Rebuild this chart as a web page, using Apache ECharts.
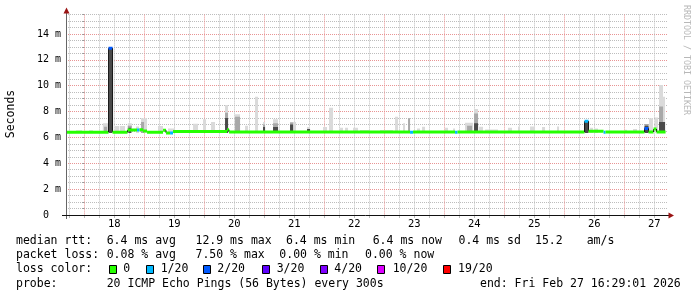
<!DOCTYPE html>
<html><head><meta charset="utf-8">
<script src="https://cdn.jsdelivr.net/npm/echarts@6/dist/echarts.min.js"></script>
<style>html,body{margin:0;padding:0;background:#fff}#c{width:697px;height:297px}</style>
</head><body><div id="c"></div>
<script>
// time unit: hours since Feb 18 00:00
const dayLabels = ['18','19','20','21','22','23','24','25','26','27'];
const dayLabelHours = [12,36,60,84,108,132,156,180,204,228];
const gridHours = [-6,0,6,12,18,24,30,36,42,48,54,60,66,72,78,84,90,96,102,108,114,120,126,132,138,144,150,156,162,168,174,180,186,192,198,204,210,216,222,228];
const lossLabels = ['0','1/20','2/20','3/20','4/20','10/20','19/20'];
const lossColors = ['#26ff00','#00b8ff','#0059ff','#5e00ff','#7e00ff','#dd00ff','#ff0000'];

// median rtt (ms) as steps: start hour, value, loss-colour index
const medianStart = [-7.3,9.7,11.3,17.3,21.1,22.1,23.5,25.1,31.5,32.7,34.3,35.5,57.1,57.9,130.3,131.5,148.3,149.3,200.1,201.7,207.7,208.5,224.1,225.7,227.7,228.9];
const medianValue = [6.4,12.9,6.4,6.57,6.57,6.6,6.5,6.4,6.55,6.35,6.35,6.45,6.6,6.42,6.4,6.42,6.4,6.42,7.25,6.48,6.4,6.42,6.7,6.42,6.65,6.42];
const medianLoss  = [0,2,0,0,1,0,0,0,0,0,1,0,0,0,1,0,1,0,1,0,1,0,2,0,0,0];
const medianEnd = 232.5;

// smoke: [start hour, end hour, top ms]
const smokeLight = [[-3.3,-0.9,6.55],[1.9,3.5,6.55],[7.4,9.7,7.1],[12.3,14.0,6.88],[14.3,16.3,6.88],[17.4,19.0,7.1],[20.7,21.9,6.85],[22.7,25.1,7.48],[29.5,31.5,6.88],[33.5,36.3,6.7],[43.5,45.5,7.05],[47.5,48.7,7.4],[50.7,52.3,7.2],[56.3,57.5,8.5],[60.3,62.3,7.8],[64.3,65.5,6.9],[68.3,69.5,9.15],[71.5,72.3,7.2],[75.5,77.5,7.4],[82.3,84.7,7.2],[89.1,90.3,6.8],[95.5,97.1,6.8],[97.9,99.5,8.3],[102.3,103.5,6.75],[104.3,105.5,6.75],[107.5,109.5,6.75],[110.3,114.3,6.57],[118.3,123.5,6.57],[124.3,125.5,7.6],[127.5,128.3,7.1],[129.5,130.3,7.48],[133.1,134.3,6.7],[135.1,136.3,6.83],[144.3,145.5,6.75],[147.5,148.3,6.7],[152.3,155.5,7.14],[155.9,157.5,8.2],[157.9,159.5,6.83],[160.3,165.5,6.62],[169.5,171.1,6.75],[173.5,174.3,6.85],[178.3,180.3,6.85],[183.1,184.3,6.8],[189.1,189.9,6.85],[202.3,203.5,6.75],[204.3,205.5,6.7],[216.3,217.1,6.6],[219.5,221.1,6.65],[225.9,227.5,7.48],[228.3,229.5,7.55],[229.9,231.5,10.05],[231.5,232.3,9.15]];
const smokeMid = [[7.9,9.1,6.83],[17.4,19.0,6.9],[22.7,23.9,7.2],[56.3,57.5,7.9],[60.3,62.3,7.6],[71.5,72.3,7.0],[75.5,77.5,7.1],[82.3,83.5,7.15],[129.5,130.3,7.48],[153.1,155.1,6.9],[155.9,157.5,7.86],[224.1,225.7,7.04],[229.9,231.5,8.4],[231.5,232.3,7.2]];
const smokeDark = [[9.9,11.2,12.9],[17.7,18.7,6.75],[56.3,57.5,7.5],[71.5,72.3,6.8],[75.5,77.5,6.8],[82.3,83.5,7.0],[89.1,90.3,6.65],[155.9,157.5,7.1],[200.1,201.7,7.25],[224.1,225.7,6.9],[229.9,232.3,7.2]];
const smokeBase = 6.35;

const statLines = [
  [['median rtt:',16],['6.4 ms avg',106.7],['12.9 ms max',195.5],['6.4 ms min',286],['6.4 ms now',372.7],['0.4 ms sd',458.5],['15.2',535],['am/s',586.7]],
  [['packet loss:',16],['0.08 % avg',106.7],['7.50 % max',195.5],['0.00 % min',279.3],['0.00 % now',365]],
  [['loss color:',16]],
  [['probe:',16],['20 ICMP Echo Pings (56 Bytes) every 300s',106.7],['end: Fri Feb 27 16:29:01 2026',480]]
];

const MONO = '"DejaVu Sans Mono", monospace';
const RED = '#e89494', GRAY = '#bdbdbd';

function smokeSeries(data, color) {
  return {
    type: 'custom', data: data, encode: {x: [0, 1], y: 2}, clip: true, silent: true,
    renderItem: function (params, api) {
      const p0 = api.coord([api.value(0), api.value(2)]);
      const p1 = api.coord([api.value(1), smokeBase]);
      return {type: 'rect', shape: {x: p0[0], y: p0[1], width: p1[0] - p0[0], height: p1[1] - p0[1]}, style: {fill: color}};
    }
  };
}

const medianData = medianStart.map((t, i) => [t, i < medianStart.length - 1 ? medianStart[i + 1] : medianEnd, medianValue[i], medianLoss[i], i > 0 ? medianValue[i - 1] : medianValue[i]]);

const graphics = [];
graphics.push({type: 'line', shape: {x1: 66.5, y1: 219, x2: 66.5, y2: 12}, style: {stroke: '#666', lineWidth: 1}, z: 10});
graphics.push({type: 'line', shape: {x1: 62, y1: 215.5, x2: 669, y2: 215.5}, style: {stroke: '#111', lineWidth: 1}, z: 10});
graphics.push({type: 'polygon', shape: {points: [[63.5, 13.5], [69.5, 13.5], [66.5, 7.5]]}, style: {fill: '#9a1414'}, z: 11});
graphics.push({type: 'polygon', shape: {points: [[668.5, 212.5], [668.5, 218.5], [674, 215.5]]}, style: {fill: '#9a1414'}, z: 11});
graphics.push({type: 'text', x: 11, y: 114, rotation: Math.PI / 2, style: {text: 'Seconds', font: '11.5px ' + MONO, fill: '#000', align: 'center', verticalAlign: 'middle'}});
graphics.push({type: 'text', x: 686, y: 5, rotation: -Math.PI / 2, style: {text: 'RRDTOOL / TOBI OETIKER', font: '8.3px ' + MONO, fill: '#b8b8b8', align: 'left', verticalAlign: 'middle'}});
const lineY = [241.5, 255.5, 269.5, 283.7];
statLines.forEach((line, li) => {
  line.forEach(([txt, x]) => {
    graphics.push({type: 'text', x: x, y: lineY[li], style: {text: txt, font: '11.5px ' + MONO, fill: '#000', align: 'left', verticalAlign: 'middle'}});
  });
});
const boxX = [109.3, 146, 202.7, 261.7, 320, 376.7, 443.3];
const boxTextX = [123.3, 160.7, 217.3, 276.7, 334.3, 392.7, 458];
lossLabels.forEach((lab, i) => {
  graphics.push({type: 'rect', shape: {x: Math.round(boxX[i]) + 0.5, y: 265.5, width: 7, height: 8}, style: {fill: lossColors[i], stroke: '#000', lineWidth: 1}});
  graphics.push({type: 'text', x: boxTextX[i], y: lineY[2], style: {text: lab, font: '11.5px ' + MONO, fill: '#000', align: 'left', verticalAlign: 'middle'}});
});

const chart = echarts.init(document.getElementById('c'), null, {renderer: 'canvas'});
chart.setOption({
  animation: false,
  backgroundColor: '#fff',
  grid: {left: 66, top: 14.6, width: 602, height: 200.4, containLabel: false},
  xAxis: {
    type: 'value', min: -7.32, max: 233.48,
    axisLine: {show: false},
    axisTick: {show: true, customValues: gridHours, length: 3, lineStyle: {color: '#bbb'}},
    axisLabel: {customValues: dayLabelHours, formatter: v => dayLabels[dayLabelHours.indexOf(v)], fontFamily: MONO, fontSize: 10.5, color: '#000', margin: 4},
    splitLine: {show: true, lineStyle: {color: [GRAY, RED, GRAY, GRAY], type: [1, 1], width: 1}}
  },
  yAxis: {
    type: 'value', min: 0, max: 15.5, interval: 0.5,
    axisLine: {show: false},
    axisTick: {show: true, length: 2, lineStyle: {color: '#999'}},
    axisLabel: {formatter: v => (v % 2 !== 0 ? '' : (v === 0 ? '0  ' : v + ' m')), fontFamily: MONO, fontSize: 10, color: '#000', margin: 5},
    splitLine: {show: true, lineStyle: {color: [RED, GRAY, GRAY, GRAY], type: [1, 1], width: 1}}
  },
  series: [
    smokeSeries(smokeLight, '#dadada'),
    smokeSeries(smokeMid, '#a8a8a8'),
    smokeSeries(smokeDark, '#4a4a4a'),
    {
      type: 'custom', data: medianData, encode: {x: [0, 1], y: 2}, clip: true, silent: true,
      renderItem: function (params, api) {
        const a = api.coord([api.value(0), api.value(2)]);
        const b = api.coord([api.value(1), api.value(2)]);
        const prev = api.coord([api.value(0), api.value(4)]);
        const children = [];
        if (Math.abs(prev[1] - a[1]) > 2) {
          children.push({type: 'line', shape: {x1: a[0], y1: prev[1], x2: a[0], y2: a[1]}, style: {stroke: '#111', lineWidth: 1}});
        }
        children.push({type: 'rect', shape: {x: a[0], y: a[1] - 1.5, width: b[0] - a[0], height: 3}, style: {fill: lossColors[api.value(3)]}});
        return {type: 'group', children: children};
      }
    }
  ],
  graphic: graphics
});
</script>
</body></html>
